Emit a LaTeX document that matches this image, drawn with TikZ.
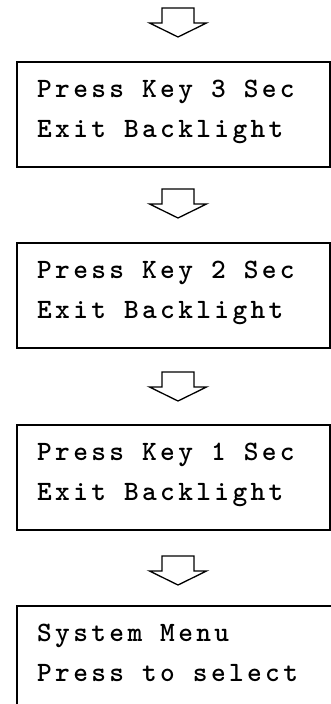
\documentclass[tikz,border=0pt]{standalone}
\usepackage{fontspec}
\newfontfamily\courfont{lmmonolt10-bold}[Extension=.otf, LetterSpace=12]
\begin{document}
\begin{tikzpicture}[x=1pt,y=-1pt,
  box/.style={draw=black, line width=2pt, rectangle, minimum width=313pt, minimum height=105pt, inner sep=0pt, anchor=north west},
  txt/.style={anchor=base west, inner sep=0pt, font=\fontsize{28}{40}\selectfont\courfont, text=black},
  arrowline/.style={draw=black, line width=1.3pt, line join=miter, fill=white},
  blockarrow/.pic={\path[arrowline] (-16,0) -- (16,0) -- (16,15) -- (28.5,15) -- (0,29) -- (-28.5,15) -- (-16,15) -- cycle;}
]
\useasboundingbox (0,0) rectangle (331,704);
\clip (0,0) rectangle (331,704);
% boxes
\node[box] (b1) at (16,61) {};
\node[box] (b2) at (16,242) {};
\node[box] (b3) at (16,424) {};
\node[box, minimum width=320pt] (b4) at (16,605) {};
% texts
\node[txt] (t1a) at ([xshift=21pt,yshift=-36pt]b1.north west) {Press Key 3 Sec};
\node[txt] (t1b) at ([xshift=21pt,yshift=-76pt]b1.north west) {Exit Backlight};
\node[txt] (t2a) at ([xshift=21pt,yshift=-36pt]b2.north west) {Press Key 2 Sec};
\node[txt] (t2b) at ([xshift=21pt,yshift=-76pt]b2.north west) {Exit Backlight};
\node[txt] (t3a) at ([xshift=21pt,yshift=-36pt]b3.north west) {Press Key 1 Sec};
\node[txt] (t3b) at ([xshift=21pt,yshift=-76pt]b3.north west) {Exit Backlight};
\node[txt] (t4a) at ([xshift=21pt,yshift=-36pt]b4.north west) {System Menu};
\node[txt] (t4b) at ([xshift=21pt,yshift=-76pt]b4.north west) {Press to select};
% arrows
\coordinate (a1) at (178,8);
\coordinate (a2) at ([yshift=-21pt]b1.south -| a1);
\coordinate (a3) at ([yshift=-23pt]b2.south -| a1);
\coordinate (a4) at ([yshift=-25pt]b3.south -| a1);
\pic at (a1) {blockarrow};
\pic at (a2) {blockarrow};
\pic at (a3) {blockarrow};
\pic at (a4) {blockarrow};
\end{tikzpicture}
\end{document}
